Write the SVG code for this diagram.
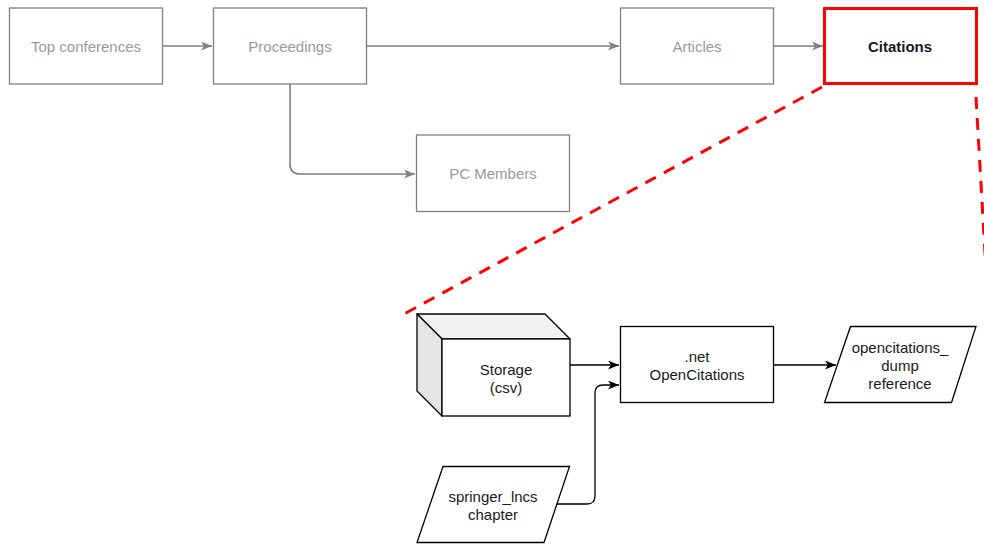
<svg xmlns="http://www.w3.org/2000/svg" width="984" height="544" viewBox="0 0 984 544">
  <style>
    .box { fill: #ffffff; stroke: #808080; stroke-width: 1.3; }
    .lbox { fill: #ffffff; stroke: #000000; stroke-width: 1.3; }
    .lbl { font-family: "Liberation Sans", Arial, sans-serif; font-size: 15px; text-anchor: middle; }
    .muted { fill: #9a9a9a; }
    .dark { fill: #1a1a1a; }
    .edge { fill: none; stroke: #808080; stroke-width: 1.6; }
    .edge-dark { fill: none; stroke: #000000; stroke-width: 1.3; }
    .zoom { fill: none; stroke: #ff0000; stroke-width: 3; stroke-dasharray: 12 9; }
  </style>
  <defs>
    <marker id="arrow-gray" markerUnits="userSpaceOnUse" markerWidth="12" markerHeight="10" refX="11" refY="4.5" orient="auto">
      <path d="M0,0 L11,4.5 L0,9 L3,4.5 Z" fill="#808080"/>
    </marker>
    <marker id="arrow-black" markerUnits="userSpaceOnUse" markerWidth="12" markerHeight="10" refX="11" refY="4.5" orient="auto">
      <path d="M0,0 L11,4.5 L0,9 L3,4.5 Z" fill="#000000"/>
    </marker>
  </defs>

  <!-- connectors -->
  <g id="connectors">
    <path class="edge" d="M163,46 H212" marker-end="url(#arrow-gray)"/>
    <path class="edge" d="M366,46 H619" marker-end="url(#arrow-gray)"/>
    <path class="edge" d="M774,46 H823" marker-end="url(#arrow-gray)"/>
    <path class="edge" d="M290,84 V164 Q290,174 300,174 H415" marker-end="url(#arrow-gray)"/>
    <path class="edge-dark" d="M570,365 H619" marker-end="url(#arrow-black)"/>
    <path class="edge-dark" d="M557,504 H587 Q595,504 595,496 V393 Q595,385 603,385 H619" marker-end="url(#arrow-black)"/>
    <path class="edge-dark" d="M774,365 H836" marker-end="url(#arrow-black)"/>
    <!-- detail callout lines -->
    <path class="zoom" d="M822,87 L404,314"/>
    <path class="zoom" d="M976,97 L990,340"/>
  </g>

  <g id="top-conferences">
    <rect class="box" x="9.5" y="8" width="153" height="76"/>
    <text class="lbl muted" x="86" y="51.5">Top conferences</text>
  </g>

  <g id="proceedings">
    <rect class="box" x="213.5" y="8" width="153" height="76"/>
    <text class="lbl muted" x="290" y="51.5">Proceedings</text>
  </g>

  <g id="articles">
    <rect class="box" x="620.5" y="8" width="153" height="76"/>
    <text class="lbl muted" x="697" y="51.5">Articles</text>
  </g>

  <g id="citations">
    <rect x="824.5" y="8.5" width="152" height="75" fill="#ffffff" stroke="#ff0000" stroke-width="3"/>
    <text class="lbl dark" x="900" y="51.5" font-weight="bold">Citations</text>
  </g>

  <g id="pc-members">
    <rect class="box" x="416.5" y="135" width="153" height="76.5"/>
    <text class="lbl muted" x="493" y="179">PC Members</text>
  </g>

  <g id="storage">
    <polygon points="417,314 545,314 570,339 442,339" fill="#f2f2f2" stroke="#000" stroke-width="1.3" stroke-linejoin="round"/>
    <polygon points="417,314 442,339 442,416 417,391" fill="#e6e6e6" stroke="#000" stroke-width="1.3" stroke-linejoin="round"/>
    <rect class="lbox" x="442" y="339" width="128" height="77"/>
    <text class="lbl dark" x="506" y="375">Storage</text>
    <text class="lbl dark" x="506" y="393">(csv)</text>
  </g>

  <g id="opencitations">
    <rect class="lbox" x="620.5" y="326.5" width="153" height="76"/>
    <text class="lbl dark" x="697" y="362">.net</text>
    <text class="lbl dark" x="697" y="380">OpenCitations</text>
  </g>

  <g id="opencitations-dump">
    <polygon class="lbox" points="850.5,326.5 976,326.5 951.5,402.5 824.5,402.5"/>
    <text class="lbl dark" x="900" y="353">opencitations_</text>
    <text class="lbl dark" x="900" y="371">dump</text>
    <text class="lbl dark" x="900" y="389">reference</text>
  </g>

  <g id="springer-lncs">
    <polygon class="lbox" points="443,466.5 569.5,466.5 544,542.5 417,542.5"/>
    <text class="lbl dark" x="493" y="502">springer_lncs</text>
    <text class="lbl dark" x="493" y="520">chapter</text>
  </g>
</svg>
